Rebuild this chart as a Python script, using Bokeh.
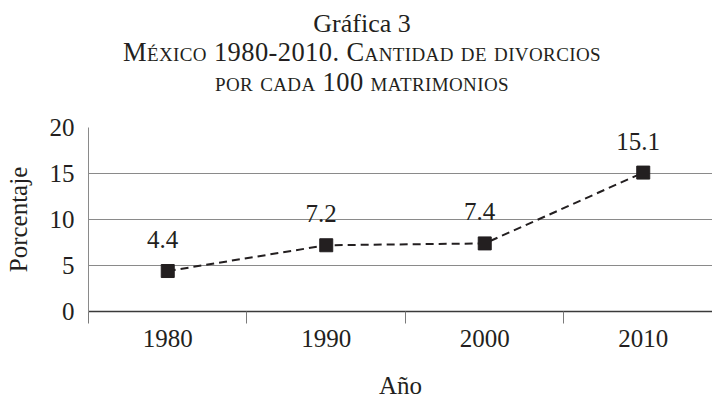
from bokeh.plotting import figure
from bokeh.models import Range1d, FixedTicker, LabelSet, ColumnDataSource, Div
from bokeh.layouts import column
from bokeh.embed import file_html
from bokeh.resources import INLINE

# ---- data ----
years = ["1980", "1990", "2000", "2010"]
divorcios = [4.4, 7.2, 7.4, 15.1]
value_labels = ["4.4", "7.2", "7.4", "15.1"]
y_ticks = [0, 5, 10, 15, 20]

title_main = "Gráfica 3"
subtitle_1 = "México 1980-2010. Cantidad de divorcios"
subtitle_2 = "por cada 100 matrimonios"
x_title = "Año"
y_title = "Porcentaje"

FONT = "Liberation Serif"
INK = "#231f20"
GRID = "#8a8a8a"

x_centers = [i + 0.5 for i in range(len(years))]
x_bounds = [float(i) for i in range(len(years))]

src = ColumnDataSource(dict(x=x_centers, y=divorcios, lab=value_labels))

p = figure(width=712, height=303, x_range=Range1d(0, 3.937), y_range=Range1d(0, 20),
           output_backend="svg", toolbar_location=None,
           min_border_left=88, min_border_right=0, min_border_top=29, min_border_bottom=87)
p.outline_line_color = None
p.background_fill_color = "white"
p.border_fill_color = "white"

# x axis: labels at category centres, tick marks at category boundaries
xa = p.xaxis[0]
xa.ticker = FixedTicker(ticks=x_centers, minor_ticks=x_bounds)
xa.major_label_overrides = dict(zip(x_centers, years))
xa.major_tick_line_color = None
xa.major_tick_out = 0
xa.major_tick_in = 0
xa.minor_tick_out = 12
xa.minor_tick_in = 0
xa.minor_tick_line_color = "#7a7a7a"
xa.minor_tick_line_width = 1
xa.axis_line_color = "#3a3a3a"
xa.axis_line_width = 1.5
xa.major_label_standoff = 6
xa.major_label_text_font = FONT
xa.major_label_text_font_size = "25px"
xa.major_label_text_color = INK
xa.axis_label = x_title
xa.axis_label_text_font = FONT
xa.axis_label_text_font_size = "25px"
xa.axis_label_text_font_style = "normal"
xa.axis_label_text_color = INK
xa.axis_label_standoff = 22
p.xgrid.visible = False

ya = p.yaxis[0]
ya.ticker = FixedTicker(ticks=y_ticks)
ya.major_tick_line_color = None
ya.minor_tick_line_color = None
ya.major_tick_out = 0
ya.major_tick_in = 0
ya.axis_line_color = GRID
ya.axis_line_width = 1
ya.major_label_standoff = 14
ya.major_label_text_font = FONT
ya.major_label_text_font_size = "25px"
ya.major_label_text_color = INK
ya.axis_label = y_title
ya.axis_label_text_font = FONT
ya.axis_label_text_font_size = "25px"
ya.axis_label_text_font_style = "normal"
ya.axis_label_text_color = INK
ya.axis_label_standoff = 15

p.ygrid.ticker = FixedTicker(ticks=y_ticks)
p.ygrid.grid_line_color = GRID
p.ygrid.grid_line_width = 1.2

p.line("x", "y", source=src, line_color=INK, line_width=2, line_dash="8 5")
p.scatter("x", "y", source=src, marker="square", size=13, fill_color=INK, line_color=INK)

labels = LabelSet(x="x", y="y", text="lab", source=src, x_offset=-5, y_offset=23,
                  text_align="center", text_baseline="alphabetic",
                  text_font=FONT, text_font_size="25px", text_color=INK)
p.add_layout(labels)

head_html = (
    f"<div style=\"width:712px; box-sizing:border-box; padding-left:12px; text-align:center; "
    f"font-family:'{FONT}'; color:{INK};\">"
    f"<div style='font-size:26px; line-height:29px; padding-top:9px;'>{title_main}</div>"
    f"<div style='font-size:26.5px; line-height:29.5px; letter-spacing:0.4px; "
    f"font-variant:small-caps;'>{subtitle_1}<br>{subtitle_2}</div></div>"
)
head = Div(text=head_html, width=712, height=98, margin=0)

layout = column(head, p, spacing=0)
open("out.html", "w").write(file_html(layout, INLINE))
